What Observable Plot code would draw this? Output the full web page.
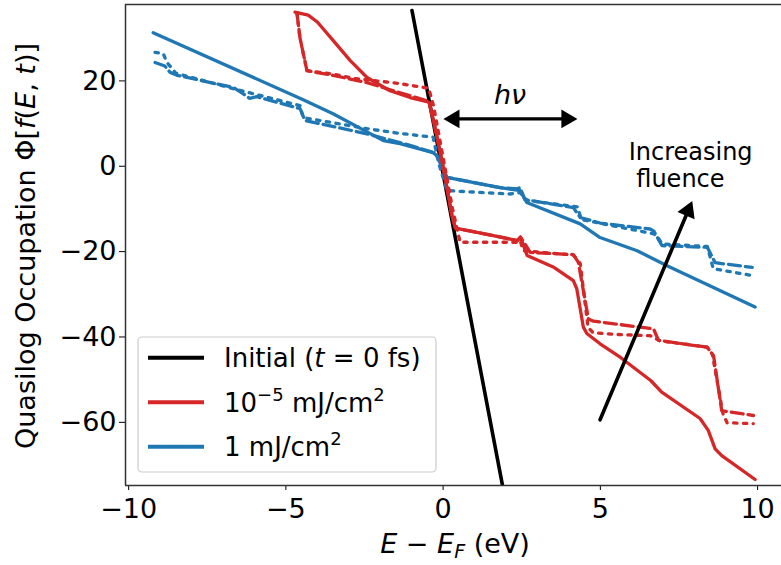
<!DOCTYPE html>
<html><head><meta charset="utf-8">
<script src="https://cdn.jsdelivr.net/npm/d3@7"></script>
<script src="https://cdn.jsdelivr.net/npm/@observablehq/plot@0.6"></script>
<style>
body{margin:0;background:#fff;}
#chart{position:relative;width:781px;height:565px;}
</style>
</head><body><div id="chart"></div>
<script>
// ---- axis ranges & ticks ----
const xTicks = [-10, -5, 0, 5, 10];
const yTicks = [-60, -40, -20, 0, 20];
const xMin = -10.1, xMax = 10.76, yMin = -74.8, yMax = 37.9;

// ---- Initial (t = 0 fs) ----
const initX = [-0.99, 1.92];
const initY = [36.5, -76];

// ---- 10^-5 mJ/cm^2 (red) ----
const redSolidX = [-4.71,-4.29,-4.0,-3.5,-2.96,-2.42,-1.69,-1.05,-0.45,-0.3,0.0,0.28,0.39,1.0,1.83,2.36,2.46,2.67,3.5,4.14,4.25,4.46,4.57,4.99,5.64,6.6,6.95,8.17,8.43,8.65,8.86,9.92];
const redSolidY = [36.1,35.4,33.8,29.5,24.8,20.8,17.7,16.1,15.0,10.5,0.0,-11.5,-14.5,-15.4,-16.6,-17.4,-16.6,-20.9,-23.6,-26.8,-28.7,-37.7,-39.2,-41.6,-44.8,-50.2,-52.9,-59.1,-61.9,-66.2,-67.8,-73.4];

const redDashX = [-4.65,-4.55,-4.33,-3.5,-2.42,-1.5,-0.9,-0.45,-0.3,0.0,0.28,0.39,1.0,1.83,2.36,2.46,2.67,2.77,4.14,4.3,4.62,4.78,6.69,6.85,8.39,8.6,8.86,9.87];
const redDashY = [36.0,30.0,22.4,21.3,19.6,17.5,16.2,15.2,10.5,0.0,-11.5,-14.5,-15.4,-16.6,-17.4,-16.6,-19.0,-20.2,-20.7,-22.5,-35.8,-36.3,-38.1,-40.8,-42.4,-44.4,-57.3,-58.4];

const redDotX = [-4.65,-4.55,-4.33,-3.5,-2.86,-1.5,-0.46,-0.3,0.0,0.3,0.54,1.5,2.35,2.45,2.55,4.14,4.36,4.61,4.77,5.5,6.58,6.9,8.4,8.56,8.9,9.03,9.86];
const redDotY = [36.0,30.0,22.4,21.6,20.6,19.5,18.3,14.0,2.0,-10.0,-17.8,-17.8,-17.8,-17.4,-19.8,-20.8,-22.8,-37.8,-39.0,-39.4,-39.7,-40.9,-42.4,-44.0,-58.0,-60.1,-60.3];

// ---- 1 mJ/cm^2 (blue) ----
const blueSolidX = [-9.22,-4.45,-3.5,-1.9,-1.37,-0.32,-0.2,0.12,1.81,2.35,2.45,2.66,4.36,4.99,6.17,7.12,9.92];
const blueSolidY = [31.3,15.6,12.3,6.0,5.3,3.2,2.5,-2.6,-5.0,-5.6,-5.7,-8.5,-13.5,-16.7,-19.8,-23.3,-33.0];

const blueDashX = [-9.16,-8.85,-8.68,-8.46,-6.68,-6.4,-6.15,-5.93,-4.55,-4.39,-2.42,-1.0,-0.3,-0.2,0.12,1.81,2.35,2.45,2.6,4.14,4.36,4.99,6.58,6.7,6.96,8.4,8.65,9.83];
const blueDashY = [24.3,23.5,22.0,21.3,18.5,17.2,15.9,16.3,13.5,10.7,7.6,4.8,3.2,2.5,-2.6,-5.0,-5.3,-5.0,-7.8,-9.7,-12.0,-13.3,-14.7,-15.2,-18.6,-19.0,-22.6,-23.7];

const blueDotX = [-9.16,-8.9,-8.78,-8.5,-6.68,-4.55,-4.45,-2.42,-1.37,-0.32,-0.15,0.12,2.13,2.45,2.67,4.27,4.4,6.68,6.8,6.96,8.4,8.59,9.83];
const blueDotY = [26.7,26.4,24.3,21.8,18.2,14.2,11.4,8.8,7.7,6.8,1.0,-5.7,-6.5,-6.2,-8.0,-9.5,-12.5,-15.8,-16.3,-18.2,-18.8,-24.0,-25.6];

// ---- annotations ----
const hvArrowX = [0.35, 3.93];
const hvArrowY = [11.1, 11.1];
const hvLabel = {x: 2.13, y: 16.5, text: "hν"};
const fluenceArrowX = [4.99, 7.79];
const fluenceArrowY = [-59.4, -10.43];
const fluenceLabel = [{x: 5.9, y: 3.3, text: "Increasing"}, {x: 5.9, y: -3.0, text: "\u00a0fluence"}];

const RED = "#d62728", BLUE = "#1f77b4";
const LW = 3.3;
const DASH = "12,5", DOT = "3.4,6.4";

const pts = (xs, ys) => xs.map((x, i) => ({x, y: ys[i]}));

const lineOpts = (stroke, dash) => ({x: "x", y: "y", stroke, strokeWidth: LW, strokeDasharray: dash, clip: true, strokeLinejoin: "round"});

const plot = Plot.plot({
  width: 781, height: 565,
  marginLeft: 125, marginRight: 0, marginTop: 4, marginBottom: 80,
  style: {fontFamily: "DejaVu Sans", fontSize: "27px", background: "white", color: "black"},
  x: {domain: [xMin, xMax], ticks: xTicks, tickSize: 5, tickPadding: 8, label: null},
  y: {domain: [yMin, yMax], ticks: yTicks, tickSize: 6, tickPadding: 3, label: null},
  marks: [
    Plot.line(pts(initX, initY), {x: "x", y: "y", stroke: "black", strokeWidth: 3.6, clip: true}),
    Plot.line(pts(blueSolidX, blueSolidY), lineOpts(BLUE, null)),
    Plot.line(pts(blueDashX, blueDashY), lineOpts(BLUE, DASH)),
    Plot.line(pts(blueDotX, blueDotY), lineOpts(BLUE, DOT)),
    Plot.line(pts(redSolidX, redSolidY), lineOpts(RED, null)),
    Plot.line(pts(redDashX, redDashY), lineOpts(RED, DASH)),
    Plot.line(pts(redDotX, redDotY), lineOpts(RED, DOT)),
    // h nu double arrow
    Plot.line(pts(hvArrowX, hvArrowY), {x: "x", y: "y", stroke: "black", strokeWidth: 3.3}),
    Plot.dot([{x: hvArrowX[0], y: hvArrowY[0], r: -90}, {x: hvArrowX[1], y: hvArrowY[1], r: 90}],
      {x: "x", y: "y", rotate: "r", symbol: "triangle", r: 6.9, fill: "black", stroke: "none"}),
    Plot.text([hvLabel], {x: "x", y: "y", text: "text", fontStyle: "italic", fontSize: 27, fill: "black"}),
    // increasing fluence arrow
    Plot.line(pts(fluenceArrowX, fluenceArrowY), {x: "x", y: "y", stroke: "black", strokeWidth: 3.6}),
    Plot.dot([{x: fluenceArrowX[1], y: fluenceArrowY[1]}],
      {x: "x", y: "y", rotate: 22.8, symbol: "triangle", r: 6.9, fill: "black", stroke: "none"}),
    Plot.text(fluenceLabel, {x: "x", y: "y", text: "text", textAnchor: "start", fontSize: 24, fill: "black"}),
    // spines
    Plot.ruleX([xMin], {stroke: "#333", strokeWidth: 1.5}),
    Plot.ruleY([yMin], {stroke: "#333", strokeWidth: 1.5}),
    Plot.ruleY([yMax], {stroke: "#333", strokeWidth: 1.5})
  ]
});
document.getElementById("chart").appendChild(plot);

// ---- axis labels & legend (SVG text) ----
const svg = d3.select(plot);
const xl = svg.append("text").attr("x", 455).attr("y", 553).attr("text-anchor", "middle")
  .attr("font-size", 27).attr("fill", "black");
xl.append("tspan").attr("font-style", "italic").text("E");
xl.append("tspan").text(" − ");
xl.append("tspan").attr("font-style", "italic").text("E");
xl.append("tspan").attr("font-style", "italic").attr("font-size", 19).attr("dy", 5).text("F");
xl.append("tspan").attr("dy", -5).text(" (eV)");

const yl = svg.append("text").attr("transform", "translate(35,246) rotate(-90)").attr("text-anchor", "middle")
  .attr("font-size", 27).attr("fill", "black");
yl.append("tspan").text("Quasilog Occupation Φ[");
yl.append("tspan").attr("font-style", "italic").text("f");
yl.append("tspan").text("(");
yl.append("tspan").attr("font-style", "italic").text("E");
yl.append("tspan").text(", ");
yl.append("tspan").attr("font-style", "italic").text("t");
yl.append("tspan").text(")]");

const lg = svg.append("g").attr("text-anchor", "start");
lg.append("rect").attr("x", 138).attr("y", 337).attr("width", 298).attr("height", 135).attr("rx", 4)
  .attr("fill", "white").attr("fill-opacity", 0.8).attr("stroke", "#cccccc").attr("stroke-width", 1.2);
const legendItems = [{c: "black", y: 357.7}, {c: RED, y: 402.3}, {c: BLUE, y: 446.7}];
legendItems.forEach(d => lg.append("line").attr("x1", 148).attr("x2", 204).attr("y1", d.y).attr("y2", d.y)
  .attr("stroke", d.c).attr("stroke-width", 4));
const t1 = lg.append("text").attr("x", 224).attr("y", 367.3).attr("text-anchor", "start").attr("font-size", 26).attr("fill", "black");
t1.append("tspan").text("Initial (");
t1.append("tspan").attr("font-style", "italic").text("t");
t1.append("tspan").text(" = 0 fs)");
const t2 = lg.append("text").attr("x", 224).attr("y", 411.9).attr("text-anchor", "start").attr("font-size", 26).attr("fill", "black");
t2.append("tspan").text("10");
t2.append("tspan").attr("font-size", 18).attr("dy", -11).text("−5");
t2.append("tspan").attr("dy", 11).text(" mJ/cm");
t2.append("tspan").attr("font-size", 18).attr("dy", -11).text("2");
const t3 = lg.append("text").attr("x", 224).attr("y", 456.3).attr("text-anchor", "start").attr("font-size", 26).attr("fill", "black");
t3.append("tspan").text("1 mJ/cm");
t3.append("tspan").attr("font-size", 18).attr("dy", -11).text("2");
</script>
</body></html>
